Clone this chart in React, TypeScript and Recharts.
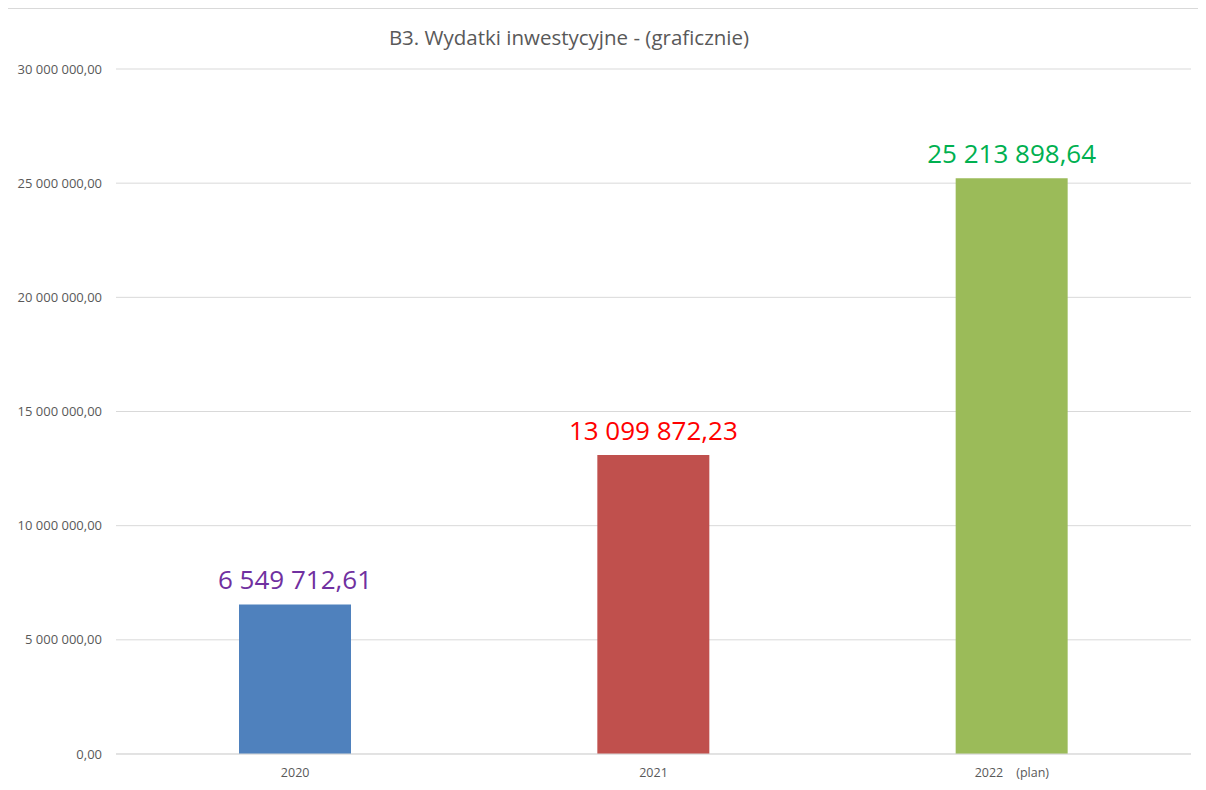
import React from "react";
import { BarChart, Bar, XAxis, YAxis, CartesianGrid, LabelList, Cell } from "recharts";

const categories = ["2020", "2021", "2022    (plan)"];
const values = [6549712.61, 13099872.23, 25213898.64];
const barColors = ["#4F81BD", "#C0504D", "#9BBB59"];
const labelColors = ["#7030A0", "#FF0000", "#00B050"];
const yTicks = [0, 5000000, 10000000, 15000000, 20000000, 25000000, 30000000];
const title = "B3. Wydatki inwestycyjne - (graficznie)";

const data = categories.map((c, i) => ({ name: c, value: values[i] }));

const FONT = "'Open Sans', 'DejaVu Sans', sans-serif";

function fmt(v: number): string {
  const [int, dec] = v.toFixed(2).split(".");
  const grouped = int.replace(/\B(?=(\d{3})+(?!\d))/g, " ");
  return grouped + "," + dec;
}

const XTick = (props: any) => {
  const { x, y, payload } = props;
  return (
    <text
      x={x}
      y={y}
      dy={15}
      textAnchor="middle"
      fill="#595959"
      fontSize={12.5}
      fontFamily={FONT}
      style={{ whiteSpace: "pre" }}
    >
      {payload.value}
    </text>
  );
};

const ValueLabel = (props: any) => {
  const { x, y, width, index, value } = props;
  return (
    <text
      x={x + width / 2}
      y={y - 15}
      textAnchor="middle"
      fill={labelColors[index]}
      fontSize={26}
      fontFamily={FONT}
    >
      {fmt(value)}
    </text>
  );
};

export default function App() {
  return (
    <div
      style={{
        position: "relative",
        width: 1197,
        height: 800,
        border: "1px solid #d9d9d9",
        background: "#fff",
        fontFamily: FONT,
        marginLeft: -1,
      }}
    >
      <BarChart
        width={1197}
        height={790}
        data={data}
        margin={{ top: 60, right: 14, left: 0, bottom: 15 }}
        barSize={112}
      >
        <text
          x={561}
          y={36}
          textAnchor="middle"
          fill="#595959"
          fontSize={20.5}
          fontFamily={FONT}
        >
          {title}
        </text>
        <CartesianGrid vertical={false} stroke="#d9d9d9" strokeWidth={1} />
        <XAxis
          dataKey="name"
          tickLine={false}
          axisLine={{ stroke: "#d9d9d9" }}
          tick={<XTick />}
          height={30}
          interval={0}
        />
        <YAxis
          width={108}
          domain={[0, 30000000]}
          ticks={yTicks}
          tickFormatter={fmt}
          tickLine={false}
          axisLine={false}
          tickSize={0}
          tickMargin={14}
          tick={{ fill: "#595959", fontSize: 13, fontFamily: FONT }}
          interval={0}
        />
        <Bar dataKey="value" isAnimationActive={false}>
          {data.map((d, i) => (
            <Cell key={d.name} fill={barColors[i]} />
          ))}
          <LabelList dataKey="value" content={<ValueLabel />} />
        </Bar>
      </BarChart>
    </div>
  );
}
